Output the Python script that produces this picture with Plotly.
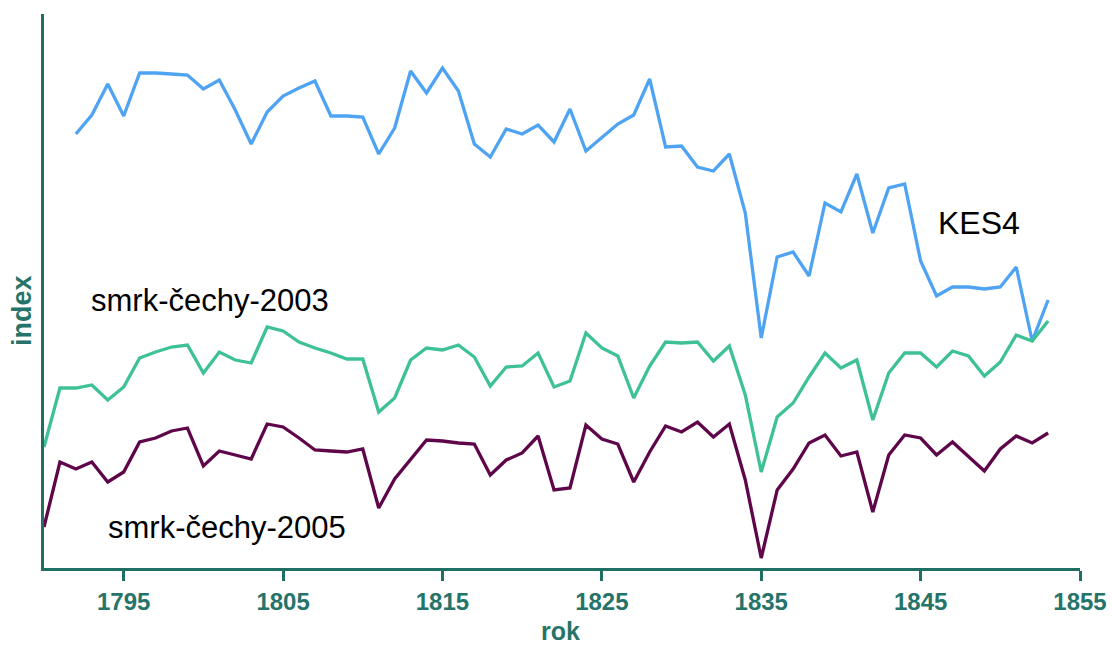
import plotly.graph_objects as go

years_kes4 = list(range(1792, 1854))
kes4 = [4.34, 4.53, 4.84, 4.52, 4.95, 4.95, 4.94, 4.93, 4.79, 4.88,
        4.58, 4.24, 4.56, 4.72, 4.80, 4.87, 4.52, 4.52, 4.51, 4.14,
        4.40, 4.97, 4.75, 5.00, 4.77, 4.24, 4.11, 4.39, 4.34, 4.43,
        4.26, 4.59, 4.17, 4.31, 4.44, 4.53, 4.89, 4.21, 4.22, 4.01,
        3.97, 4.14, 3.55, 2.30, 3.11, 3.16, 2.92, 3.65, 3.56, 3.94,
        3.35, 3.80, 3.84, 3.07, 2.72, 2.81, 2.81, 2.79, 2.81, 3.01,
        2.27, 2.68]

years_smrk = list(range(1790, 1854))
smrk_2003 = [1.21, 1.80, 1.80, 1.83, 1.68, 1.81, 2.10, 2.16, 2.21, 2.23,
             1.95, 2.16, 2.08, 2.05, 2.41, 2.37, 2.26, 2.20, 2.15, 2.09,
             2.09, 1.56, 1.70, 2.08, 2.20, 2.18, 2.23, 2.11, 1.82, 2.01,
             2.02, 2.15, 1.81, 1.87, 2.35, 2.20, 2.12, 1.70, 2.02, 2.26,
             2.25, 2.26, 2.07, 2.22, 1.73, 0.96, 1.51, 1.65, 1.91, 2.15,
             2.00, 2.08, 1.48, 1.95, 2.15, 2.15, 2.01, 2.17, 2.12, 1.92,
             2.06, 2.33, 2.27, 2.47]
smrk_2005 = [0.41, 1.06, 0.99, 1.06, 0.86, 0.96, 1.26, 1.30, 1.37, 1.40,
             1.02, 1.17, 1.13, 1.09, 1.44, 1.41, 1.30, 1.18, 1.17, 1.16,
             1.19, 0.60, 0.89, 1.09, 1.28, 1.27, 1.25, 1.24, 0.93, 1.08,
             1.15, 1.32, 0.78, 0.80, 1.43, 1.29, 1.24, 0.86, 1.16, 1.42,
             1.36, 1.46, 1.31, 1.44, 0.88, 0.10, 0.78, 0.99, 1.25, 1.33,
             1.12, 1.16, 0.56, 1.13, 1.33, 1.30, 1.13, 1.26, 1.11, 0.97,
             1.19, 1.32, 1.25, 1.35]

x_ticks = [1795, 1805, 1815, 1825, 1835, 1845, 1855]
x_title = "rok"
y_title = "index"

TEAL = "#1f6f65"
TEAL_TXT = "#267469"
FAM = "Liberation Sans, Arial, sans-serif"

fig = go.Figure()
fig.add_trace(go.Scatter(x=years_kes4, y=kes4, mode="lines", name="KES4",
                         line=dict(color="#4fa3f3", width=3.3)))
fig.add_trace(go.Scatter(x=years_smrk, y=smrk_2003, mode="lines", name="smrk-čechy-2003",
                         line=dict(color="#3ec194", width=3.3)))
fig.add_trace(go.Scatter(x=years_smrk, y=smrk_2005, mode="lines", name="smrk-čechy-2005",
                         line=dict(color="#5e0649", width=3.3)))

lab_font = dict(family=FAM, color="#000000")
fig.add_annotation(x=1848.66, y=3.45, text="KES4", showarrow=False,
                   xanchor="center", yanchor="middle", font=dict(size=32, **lab_font))
fig.add_annotation(x=1800.41, y=2.68, text="smrk-čechy-2003", showarrow=False,
                   xanchor="center", yanchor="middle", font=dict(size=31, **lab_font))
fig.add_annotation(x=1801.45, y=0.41, text="smrk-čechy-2005", showarrow=False,
                   xanchor="center", yanchor="middle", font=dict(size=31, **lab_font))

# axis titles
fig.add_annotation(xref="paper", yref="paper", x=-0.0212, y=0.4639, text=y_title,
                   textangle=-90, showarrow=False, xanchor="center", yanchor="middle",
                   font=dict(family=FAM, size=27, color=TEAL_TXT, weight="bold"))
fig.add_annotation(xref="paper", yref="paper", x=0.499, y=-0.1137, text=x_title,
                   showarrow=False, xanchor="center", yanchor="middle",
                   font=dict(family=FAM, size=25, color=TEAL_TXT, weight="bold"))

fig.update_layout(
    width=1112, height=647,
    margin=dict(l=44, r=32, t=14, b=79),
    paper_bgcolor="white", plot_bgcolor="white",
    showlegend=False,
    xaxis=dict(range=[1790, 1855], tickvals=x_ticks, ticktext=[str(t) for t in x_ticks],
               showgrid=False, zeroline=False, showline=True, linecolor=TEAL, linewidth=3,
               ticks="outside", ticklen=10, tickwidth=3, tickcolor=TEAL,
               tickfont=dict(family=FAM, size=24, color=TEAL_TXT, weight="bold"),
               automargin=False, fixedrange=True),
    yaxis=dict(range=[0, 5.54], showgrid=False, zeroline=False, showline=True,
               linecolor=TEAL, linewidth=3, showticklabels=False, ticks="",
               automargin=False, fixedrange=True),
)

fig.write_html("out.html", config={"displayModeBar": False},
               post_script="document.body.style.margin='0';document.body.style.padding='0';")
